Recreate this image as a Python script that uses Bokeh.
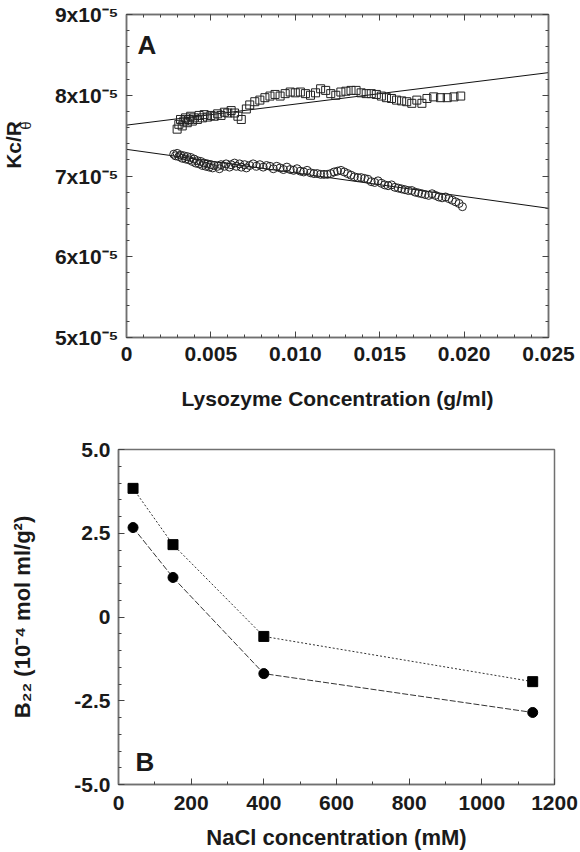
import numpy as np
from math import pi
from bokeh.plotting import figure
from bokeh.models import Range1d, LinearAxis, FixedTicker, Label
from bokeh.layouts import column, row
from bokeh.embed import file_html
from bokeh.resources import INLINE

# ---------------- Panel A data (Kc/R_theta in units of 1e-5) ----------------
sq_x = [0.0030, 0.0031, 0.0032, 0.0033, 0.0034, 0.0035, 0.0036, 0.0037, 0.0038, 0.0039,
        0.0040, 0.0042, 0.0043, 0.0045, 0.0046, 0.0048, 0.0050, 0.0052, 0.0054, 0.0056,
        0.0058, 0.0060, 0.0062, 0.0064, 0.0066, 0.0068, 0.0071, 0.0073, 0.0076, 0.0079,
        0.0082, 0.0085, 0.0088, 0.0091, 0.0094, 0.0097, 0.0100, 0.0103, 0.0106, 0.0109,
        0.0112, 0.0115, 0.0118, 0.0121, 0.0124, 0.0127, 0.0130, 0.0133, 0.0136, 0.0139,
        0.0142, 0.0145, 0.0148, 0.0151, 0.0154, 0.0157, 0.0160, 0.0163, 0.0166, 0.0169,
        0.0172, 0.0175, 0.0178, 0.0182, 0.0186, 0.0190, 0.0194, 0.0198]
sq_y = [7.58, 7.64, 7.70, 7.62, 7.68, 7.72, 7.66, 7.70, 7.74, 7.68,
        7.72, 7.70, 7.75, 7.72, 7.76, 7.73, 7.75, 7.74, 7.77, 7.75,
        7.79, 7.78, 7.81, 7.78, 7.74, 7.70, 7.83, 7.88, 7.92, 7.94,
        7.97, 7.99, 8.01, 7.99, 8.02, 8.04, 8.03, 8.04, 8.02, 8.00,
        8.03, 8.08, 8.06, 8.02, 8.00, 8.04, 8.05, 8.06, 8.06, 8.03,
        8.02, 8.02, 8.01, 7.99, 7.97, 7.96, 7.94, 7.93, 7.92, 7.90,
        7.94, 7.90, 7.96, 7.98, 7.97, 7.97, 7.98, 7.99]

ci_x = [0.0028, 0.0029, 0.0030, 0.0031, 0.0032, 0.0033, 0.0034, 0.0035, 0.0036, 0.0037,
        0.0038, 0.0039, 0.0040, 0.0041, 0.0042, 0.0043, 0.0044, 0.0045, 0.0046, 0.0047,
        0.0048, 0.0049, 0.0050, 0.0051, 0.0052, 0.0054, 0.0055, 0.0056, 0.0058, 0.0059,
        0.0061, 0.0062, 0.0064, 0.0065, 0.0067, 0.0068, 0.0070, 0.0071, 0.0073, 0.0075,
        0.0077, 0.0079, 0.0081, 0.0083, 0.0085, 0.0087, 0.0089, 0.0091, 0.0093, 0.0095,
        0.0097, 0.0099, 0.0101, 0.0103, 0.0105, 0.0107, 0.0109, 0.0111, 0.0113, 0.0115,
        0.0117, 0.0119, 0.0121, 0.0123, 0.0125, 0.0127, 0.0129, 0.0131, 0.0133, 0.0135,
        0.0137, 0.0139, 0.0141, 0.0143, 0.0145, 0.0147, 0.0149, 0.0151, 0.0153, 0.0155,
        0.0157, 0.0159, 0.0161, 0.0163, 0.0165, 0.0167, 0.0169, 0.0171, 0.0173, 0.0175,
        0.0177, 0.0179, 0.0181, 0.0183, 0.0185, 0.0187, 0.0189, 0.0191, 0.0193, 0.0195,
        0.0197, 0.0199]
ci_y = [7.27, 7.25, 7.28, 7.24, 7.26, 7.22, 7.25, 7.21, 7.24, 7.20,
        7.23, 7.18, 7.21, 7.16, 7.19, 7.15, 7.18, 7.13, 7.16, 7.12,
        7.15, 7.11, 7.14, 7.10, 7.13, 7.12, 7.09, 7.14, 7.12, 7.15,
        7.11, 7.14, 7.16, 7.12, 7.15, 7.11, 7.14, 7.10, 7.13, 7.15,
        7.12, 7.14, 7.11, 7.13, 7.12, 7.09, 7.12, 7.10, 7.08, 7.11,
        7.08, 7.07, 7.09, 7.06, 7.05, 7.07, 7.04, 7.03, 7.03, 7.02,
        7.02, 7.02, 7.03, 7.05, 7.06, 7.07, 7.05, 7.03, 7.01, 6.99,
        6.98, 6.98, 6.97, 6.96, 6.93, 6.92, 6.94, 6.91, 6.89, 6.88,
        6.89, 6.86, 6.85, 6.84, 6.83, 6.82, 6.82, 6.80, 6.79, 6.78,
        6.77, 6.76, 6.78, 6.76, 6.74, 6.73, 6.74, 6.72, 6.70, 6.68,
        6.66, 6.62]

fit_x = [0.0, 0.025]
sq_fit = [7.63, 8.28]
ci_fit = [7.33, 6.60]

a_xticks = [0.0, 0.005, 0.010, 0.015, 0.020, 0.025]
a_xlabels = ["0", "0.005", "0.010", "0.015", "0.020", "0.025"]
a_yticks = [5, 6, 7, 8, 9]
a_ylabels = ["5x10\u207b\u2075", "6x10\u207b\u2075", "7x10\u207b\u2075",
             "8x10\u207b\u2075", "9x10\u207b\u2075"]

# ---------------- Panel B data ----------------
nacl = [40, 150, 400, 1140]
b22_sq = [3.84, 2.16, -0.58, -1.93]
b22_ci = [2.67, 1.18, -1.69, -2.85]

b_xticks = [0, 200, 400, 600, 800, 1000, 1200]
b_xlabels = ["0", "200", "400", "600", "800", "1000", "1200"]
b_yticks = [-5.0, -2.5, 0.0, 2.5, 5.0]
b_ylabels = ["-5.0", "-2.5", "0", "2.5", "5.0"]

FONT = "Liberation Sans"
FRAME = "#707070"
INK = "#1a1a1a"
TICK_FS = "21px"
TITLE_FS = "21px"


def style_axis(ax, labels=True):
    ax.axis_line_color = FRAME
    ax.axis_line_width = 1.5
    ax.major_tick_in = 6
    ax.major_tick_out = 0
    ax.minor_tick_in = 3
    ax.minor_tick_out = 0
    ax.major_tick_line_color = "#444444"
    ax.minor_tick_line_color = "#444444"
    ax.major_label_text_font = FONT
    ax.major_label_text_font_style = "bold"
    ax.axis_label_text_font = FONT
    ax.axis_label_text_font_style = "bold"
    ax.axis_label_text_color = INK
    ax.axis_label_text_font_size = TITLE_FS
    if labels:
        ax.major_label_text_font_size = TICK_FS
        ax.major_label_text_color = INK
    else:
        ax.major_label_text_font_size = "1px"
        ax.major_label_text_color = None
        ax.major_label_standoff = 0


H_A = 426
SIDE_W = 40

# ---------------- y title of panel A (narrow side figure) ----------------
side = figure(width=SIDE_W, height=H_A, output_backend="svg", toolbar_location=None,
              x_range=Range1d(0, SIDE_W), y_range=Range1d(0, H_A),
              x_axis_location=None, y_axis_location=None,
              min_border=0, outline_line_color=None)
side.grid.visible = False
side.add_layout(Label(x=13, y=H_A - 172, text="Kc/R", angle=pi / 2,
                      text_font=FONT, text_font_style="bold", text_font_size="21px",
                      text_color=INK, text_align="center", text_baseline="alphabetic"))
side.add_layout(Label(x=25, y=H_A - 152, text="\u03b8", angle=pi / 2,
                      text_font=FONT, text_font_size="15px",
                      text_color=INK, text_align="left", text_baseline="alphabetic"))

# ---------------- Figure A ----------------
pA = figure(width=580 - SIDE_W, height=H_A, output_backend="svg", toolbar_location=None,
            x_range=Range1d(0, 0.025), y_range=Range1d(5, 9),
            min_border_left=126 - SIDE_W, min_border_right=32, min_border_top=14,
            min_border_bottom=H_A - 337)
pA.xgrid.visible = False
pA.ygrid.visible = False
pA.outline_line_color = FRAME
pA.outline_line_width = 1.5

a_xminor = [round(v, 4) for v in np.arange(0, 0.0251, 0.001)]
a_yminor = [round(v, 2) for v in np.arange(5, 9.01, 0.2)]
xt_A = FixedTicker(ticks=a_xticks, minor_ticks=a_xminor)
yt_A = FixedTicker(ticks=a_yticks, minor_ticks=a_yminor)

pA.xaxis.ticker = xt_A
pA.yaxis.ticker = yt_A
pA.xaxis.major_label_overrides = dict(zip(a_xticks, a_xlabels))
pA.yaxis.major_label_overrides = dict(zip(a_yticks, a_ylabels))
style_axis(pA.xaxis[0])
style_axis(pA.yaxis[0])
pA.xaxis.major_label_standoff = 9
pA.yaxis.major_label_standoff = 8
pA.xaxis.axis_label = "Lysozyme Concentration (g/ml)"
pA.xaxis.axis_label_standoff = 23

top_A = LinearAxis(ticker=xt_A)
right_A = LinearAxis(ticker=yt_A)
style_axis(top_A, labels=False)
style_axis(right_A, labels=False)
pA.add_layout(top_A, "above")
pA.add_layout(right_A, "right")

pA.line(fit_x, sq_fit, line_color="#111111", line_width=1)
pA.line(fit_x, ci_fit, line_color="#111111", line_width=1)
pA.scatter(sq_x, sq_y, marker="square", size=8, fill_color=None,
           line_color="#222222", line_width=1)
pA.scatter(ci_x, ci_y, marker="circle", size=8, fill_color=None,
           line_color="#222222", line_width=1)

pA.add_layout(Label(x=0.00065, y=8.62, text="A", text_font=FONT, text_font_style="bold",
                    text_font_size="26px", text_color=INK, text_align="left",
                    text_baseline="alphabetic"))

# ---------------- Figure B ----------------
H_B = 852 - H_A
pB = figure(width=580, height=H_B, output_backend="svg", toolbar_location=None,
            x_range=Range1d(0, 1200), y_range=Range1d(-5, 5),
            min_border_left=118, min_border_right=26, min_border_top=449 - H_A,
            min_border_bottom=68)
pB.xgrid.visible = False
pB.ygrid.visible = False
pB.outline_line_color = FRAME
pB.outline_line_width = 1.5

b_xminor = [int(v) for v in np.arange(0, 1201, 100)]
b_yminor = [round(v, 1) for v in np.arange(-5, 5.01, 0.5)]
pB.xaxis.ticker = FixedTicker(ticks=b_xticks, minor_ticks=b_xminor)
pB.yaxis.ticker = FixedTicker(ticks=b_yticks, minor_ticks=b_yminor)
pB.xaxis.major_label_overrides = dict(zip(b_xticks, b_xlabels))
pB.yaxis.major_label_overrides = dict(zip(b_yticks, b_ylabels))
style_axis(pB.xaxis[0])
style_axis(pB.yaxis[0])
pB.xaxis.axis_label_text_font_size = "22px"
pB.yaxis.axis_label_text_font_size = "22px"
pB.xaxis.major_label_standoff = 11
pB.yaxis.major_label_standoff = 8
pB.xaxis.axis_label = "NaCl concentration (mM)"
pB.xaxis.axis_label_standoff = 12
pB.yaxis.axis_label = "B\u2082\u2082 (10\u207b\u2074 mol ml/g\u00b2)"
pB.yaxis.axis_label_standoff = 36

pB.line(nacl, b22_sq, line_color="#333333", line_width=1, line_dash="2 2")
pB.line(nacl, b22_ci, line_color="#333333", line_width=1, line_dash="6 2")
pB.scatter(nacl, b22_sq, marker="square", size=10, fill_color="#000000",
           line_color="#000000")
pB.scatter(nacl, b22_ci, marker="circle", size=10, fill_color="#000000",
           line_color="#000000")

pB.add_layout(Label(x=47, y=-4.34, text="B", text_font=FONT, text_font_style="bold",
                    text_font_size="26px", text_color=INK, text_align="left",
                    text_baseline="alphabetic"))

layout = column(row(side, pA, spacing=0), pB, spacing=0)
open("out.html", "w").write(file_html(layout, INLINE))
